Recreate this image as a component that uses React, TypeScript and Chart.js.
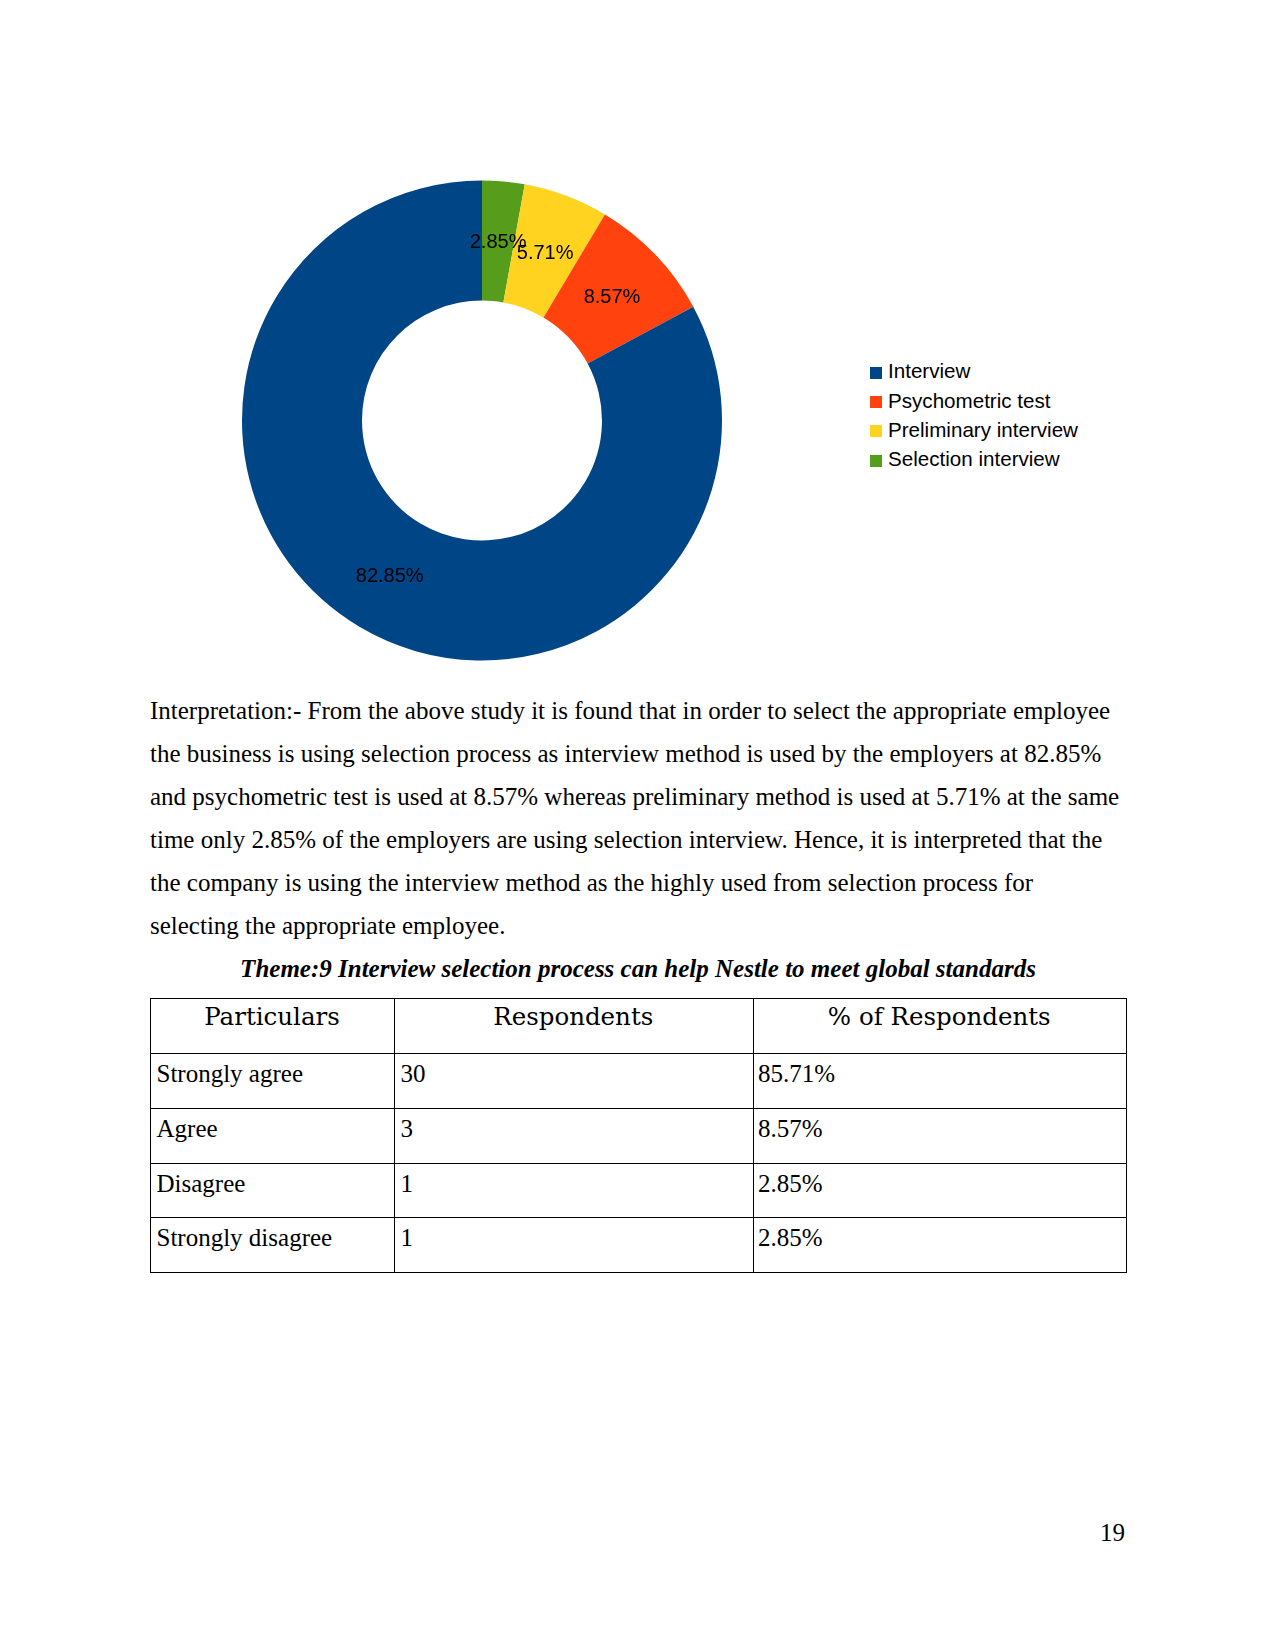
import React, { useEffect, useRef } from 'react';
import { Chart, registerables } from 'chart.js';

Chart.register(...registerables);

// ---- chart data (legend order) ----
const categories = ['Interview', 'Psychometric test', 'Preliminary interview', 'Selection interview'];
const shares = [82.85, 8.57, 5.71, 2.85];
const sliceColors = ['#004586', '#ff420e', '#ffd320', '#579d1c'];

// ---- page text ----
const paragraphLines = [
  'Interpretation:- From the above study it is found that in order to select the appropriate employee',
  'the business is using selection process as interview method is used by the employers at 82.85%',
  'and psychometric test is used at 8.57% whereas preliminary method is used at 5.71% at the same',
  'time only 2.85% of the employers are using selection interview. Hence, it is interpreted that the',
  'the company is using the interview method as the highly used from selection process for',
  'selecting the appropriate employee.',
];
const themeTitle = 'Theme:9 Interview selection process can help Nestle to meet global standards';
const tableHeaders = ['Particulars', 'Respondents', '% of Respondents'];
const tableParticulars = ['Strongly agree', 'Agree', 'Disagree', 'Strongly disagree'];
const tableRespondents = ['30', '3', '1', '1'];
const tablePercents = ['85.71%', '8.57%', '2.85%', '2.85%'];
const pageNumber = '19';

const SERIF = '"Liberation Serif", "Times New Roman", serif';
const SANS = '"Liberation Sans", Arial, sans-serif';
const HEAD = '"DejaVu Serif", serif';

type TProps = {
  x: number;
  baseline: number;
  family: string;
  size: number;
  asc: number;
  desc: number;
  align?: 'left' | 'center' | 'right';
  bold?: boolean;
  italic?: boolean;
  children: React.ReactNode;
};

function T({ x, baseline, family, size, asc, desc, align = 'left', bold, italic, children }: TProps) {
  const lh = size;
  const offset = (lh - (asc + desc) * size) / 2 + asc * size;
  const top = baseline - offset;
  const style: React.CSSProperties = {
    position: 'absolute',
    top,
    fontFamily: family,
    fontSize: size,
    lineHeight: lh + 'px',
    whiteSpace: 'nowrap',
    color: '#000',
    fontWeight: bold ? 'bold' : 'normal',
    fontStyle: italic ? 'italic' : 'normal',
  };
  if (align === 'left') {
    style.left = x;
  } else if (align === 'center') {
    style.left = x - 600;
    style.width = 1200;
    style.textAlign = 'center';
  } else {
    style.left = x - 1200;
    style.width = 1200;
    style.textAlign = 'right';
  }
  return <div style={style}>{children}</div>;
}

const serifT = { family: SERIF, size: 25, asc: 0.891, desc: 0.216 };

const labelPlugin = {
  id: 'sliceLabels',
  afterDatasetsDraw(chart: any) {
    const ctx = chart.ctx;
    const meta = chart.getDatasetMeta(0);
    const data = chart.data.datasets[0].data as number[];
    ctx.save();
    ctx.font = '20px "Liberation Sans", Arial, sans-serif';
    ctx.fillStyle = '#000000';
    ctx.textAlign = 'center';
    ctx.textBaseline = 'alphabetic';
    meta.data.forEach((arc: any, i: number) => {
      const p = arc.tooltipPosition(false);
      ctx.fillText(data[i].toFixed(2) + '%', p.x, p.y + 7.2);
    });
    ctx.restore();
  },
};

function Donut() {
  const ref = useRef<HTMLCanvasElement | null>(null);
  useEffect(() => {
    if (!ref.current) return;
    // LibreOffice draws slices counter-clockwise from 12 o'clock; Chart.js draws clockwise
    const labels = [...categories].reverse();
    const values = [...shares].reverse();
    const colors = [...sliceColors].reverse();
    const chart = new Chart(ref.current, {
      type: 'doughnut',
      data: {
        labels,
        datasets: [
          {
            data: values,
            backgroundColor: colors,
            borderWidth: 0,
            hoverOffset: 0,
          },
        ],
      },
      options: {
        responsive: false,
        animation: false,
        cutout: '50%',
        rotation: 0,
        layout: { padding: 10 },
        events: [],
        plugins: {
          legend: { display: false },
          tooltip: { enabled: false },
        },
      },
      plugins: [labelPlugin],
    });
    return () => chart.destroy();
  }, []);
  return (
    <canvas
      ref={ref}
      width={500}
      height={501}
      style={{ position: 'absolute', left: 232, top: 170, width: 500, height: 501 }}
    />
  );
}

const legendBaselines = [378.7, 408.0, 437.5, 466.7];

export default function App() {
  const colX = [150, 394, 752.5, 1126];
  const rowY = [998, 1053, 1108, 1162.5, 1217, 1272];
  const bodyTextX = [156.5, 400.5, 758];
  const headerCenters = [(colX[0] + colX[1]) / 2, (colX[1] + colX[2]) / 2, (colX[2] + colX[3]) / 2];

  const lines: React.ReactNode[] = [];
  rowY.forEach((y, i) => {
    lines.push(
      <div
        key={'h' + i}
        style={{ position: 'absolute', left: colX[0], top: y, width: colX[3] - colX[0] + 1, height: 1, background: '#000' }}
      />
    );
  });
  colX.forEach((x, i) => {
    lines.push(
      <div
        key={'v' + i}
        style={{ position: 'absolute', left: x, top: rowY[0], width: 1, height: rowY[rowY.length - 1] - rowY[0] + 1, background: '#000' }}
      />
    );
  });

  return (
    <div style={{ position: 'absolute', left: 0, top: 0, width: 1275, height: 1651, background: '#fff', overflow: 'hidden' }}>
      <Donut />

      {categories.map((c, i) => (
        <React.Fragment key={c}>
          <div
            style={{
              position: 'absolute',
              left: 869.5,
              top: legendBaselines[i] - 12.2,
              width: 12.5,
              height: 12,
              background: sliceColors[i],
            }}
          />
          <T x={888} baseline={legendBaselines[i]} family={SANS} size={20.6} asc={0.905} desc={0.212}>
            {c}
          </T>
        </React.Fragment>
      ))}

      {paragraphLines.map((l, i) => (
        <T key={i} x={150} baseline={719 + i * 42.95} {...serifT}>
          {l}
        </T>
      ))}

      <T x={638} baseline={976.5} {...serifT} align="center" bold italic>
        {themeTitle}
      </T>

      {lines}

      {tableHeaders.map((h, i) => (
        <T key={h} x={headerCenters[i]} baseline={rowY[0] + 27.5} family={HEAD} size={24.5} asc={0.928} desc={0.236} align="center">
          {h}
        </T>
      ))}

      {tableParticulars.map((p, r) => (
        <React.Fragment key={p + r}>
          <T x={bodyTextX[0]} baseline={rowY[r + 1] + 29} {...serifT}>
            {p}
          </T>
          <T x={bodyTextX[1]} baseline={rowY[r + 1] + 29} {...serifT}>
            {tableRespondents[r]}
          </T>
          <T x={bodyTextX[2]} baseline={rowY[r + 1] + 29} {...serifT}>
            {tablePercents[r]}
          </T>
        </React.Fragment>
      ))}

      <T x={1125} baseline={1540.5} {...serifT} align="right">
        {pageNumber}
      </T>
    </div>
  );
}
